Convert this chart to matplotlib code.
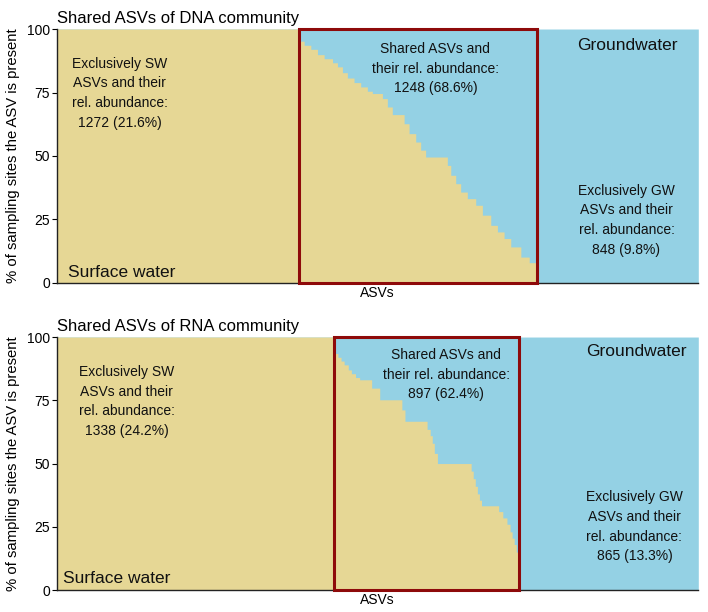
import numpy as np
import matplotlib
matplotlib.use('Agg')
import matplotlib.pyplot as plt
from matplotlib.patches import Rectangle

plt.rcParams['font.family'] = ['Liberation Sans', 'DejaVu Sans']

# ASV counts per group
dna_sw, dna_shared, dna_gw = 1272, 1248, 848
rna_sw, rna_shared, rna_gw = 1338, 897, 865

# shared ASVs: % of sampling sites (SW share) and number of ASVs at that level
dna_levels = [95.2, 93.6, 92.0, 89.9, 88.3, 86.7, 85.1, 82.8, 80.7, 78.9, 77.2, 75.5,
              74.6, 72.6, 69.3, 66.3, 62.7, 58.8, 55.5, 52.3, 49.6, 46.3, 42.4, 39.1,
              35.8, 33.2, 30.6, 26.7, 22.7, 20.1, 17.5, 14.2, 10.2, 8.0]
dna_counts = [26, 35, 35, 35, 44, 26, 26, 26, 35, 35, 35, 26,
              53, 26, 26, 62, 26, 35, 26, 26, 114, 18, 26, 26,
              35, 44, 35, 44, 35, 35, 35, 53, 44, 40]

rna_levels = [93.5, 92.0, 90.5, 89.0, 87.0, 85.5, 84.0, 83.1, 79.8, 75.2, 71.2, 66.7,
              63.5, 61.0, 58.0, 54.0, 50.0, 47.0, 44.0, 41.0, 38.0, 35.5, 33.3, 31.0,
              28.5, 26.0, 23.0, 20.5, 18.0, 15.0]
rna_counts = [20, 15, 15, 20, 15, 20, 20, 58, 39, 107, 15, 107,
              15, 10, 10, 15, 163, 10, 10, 10, 10, 10, 83, 20,
              20, 15, 10, 10, 10, 15]

sw_col = '#E6D795'
gw_col = '#94D1E4'
box_col = '#8E0A0A'


def panel(ax, title, n_sw, n_shared, n_gw, levels, counts, sw_txt, sh_txt, gw_txt, pos):
    shared = np.repeat(levels, counts)
    y = np.concatenate([np.full(n_sw, 100.0), shared, np.zeros(n_gw)])
    n = len(y)
    x = np.arange(n + 1)
    y = np.append(y, y[-1])
    ax.fill_between(x, 0, 100, color=gw_col, linewidth=0)
    ax.fill_between(x, 0, y, step='post', color=sw_col, linewidth=0)
    ax.add_patch(Rectangle((n_sw, 0), n_shared, 100, fill=False,
                           edgecolor=box_col, linewidth=2.2, zorder=5, clip_on=False))
    ax.set_xlim(0, n)
    ax.set_ylim(0, 100)
    ax.set_yticks([0, 25, 50, 75, 100])
    ax.set_xticks([])
    ax.tick_params(axis='y', labelsize=10, length=3.5, width=0.8, pad=1.5)
    for s in ['top', 'right']:
        ax.spines[s].set_visible(False)
    for s in ['left', 'bottom']:
        ax.spines[s].set_linewidth(1.0)
        ax.spines[s].set_color('#222222')
    ax.set_ylabel('% of sampling sites the ASV is present', fontsize=10.7, labelpad=5)
    ax.set_xlabel('ASVs', fontsize=10, labelpad=2)
    ax.set_title(title, loc='left', fontsize=12, pad=4)

    kw = dict(transform=ax.transAxes, ha='center', va='center', fontsize=10,
              linespacing=1.52, color='#111111')
    ax.text(pos['sw'][0], pos['sw'][1], sw_txt, **kw)
    ax.text(pos['sh'][0], pos['sh'][1], sh_txt, zorder=6, **kw)
    ax.text(pos['gw'][0], pos['gw'][1], gw_txt, **kw)
    ax.text(pos['sfc'][0], pos['sfc'][1], 'Surface water', transform=ax.transAxes,
            ha='left', va='baseline', fontsize=12.5, color='#111111')
    ax.text(pos['gwl'][0], pos['gwl'][1], 'Groundwater', transform=ax.transAxes,
            ha='center', va='baseline', fontsize=12.5, color='#111111', zorder=6)


fig = plt.figure(figsize=(7.08, 6.12), dpi=100)
ax1 = fig.add_axes([0.0805, 0.5376, 0.9058, 0.415])
ax2 = fig.add_axes([0.0805, 0.0359, 0.9058, 0.4134])

panel(ax1, 'Shared ASVs of DNA community', dna_sw, dna_shared, dna_gw, dna_levels, dna_counts,
      'Exclusively SW\nASVs and their\nrel. abundance:\n1272 (21.6%)',
      'Shared ASVs and\ntheir rel. abundance:\n1248 (68.6%)',
      'Exclusively GW\nASVs and their\nrel. abundance:\n848 (9.8%)',
      dict(sw=(0.098, 0.747), sh=(0.590, 0.844), gw=(0.888, 0.247),
           sfc=(0.0176, 0.0236), gwl=(0.890, 0.919)))

panel(ax2, 'Shared ASVs of RNA community', rna_sw, rna_shared, rna_gw, rna_levels, rna_counts,
      'Exclusively SW\nASVs and their\nrel. abundance:\n1338 (24.2%)',
      'Shared ASVs and\ntheir rel. abundance:\n897 (62.4%)',
      'Exclusively GW\nASVs and their\nrel. abundance:\n865 (13.3%)',
      dict(sw=(0.109, 0.745), sh=(0.6066, 0.851), gw=(0.9004, 0.2505),
           sfc=(0.0098, 0.0265), gwl=(0.903, 0.926)))

fig.savefig('out.png', dpi=100)
